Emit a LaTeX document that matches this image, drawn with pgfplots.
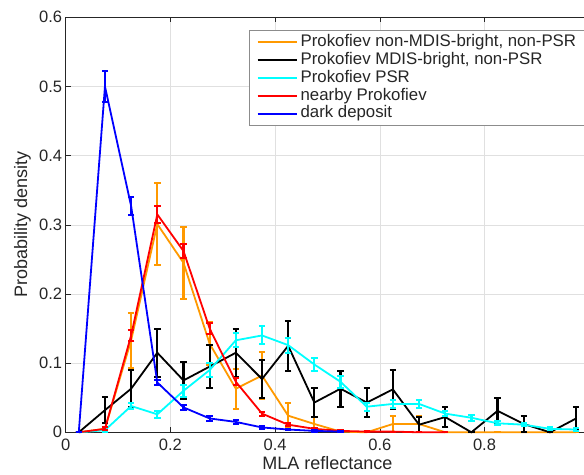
\documentclass[border=0pt]{standalone}
\usepackage{fontspec}
\setmainfont{Liberation Sans}
\usepackage{pgfplots}
\pgfplotsset{compat=1.18}
\definecolor{mlorange}{rgb}{1,0.6,0}
\definecolor{mlcyan}{rgb}{0,1,1}
\definecolor{mlred}{rgb}{1,0,0}
\definecolor{mlblue}{rgb}{0,0,1}
\definecolor{axgray}{gray}{0.15}
\pgfplotsset{
  eb/.style={mark=none, line width=1.8pt, forget plot,
  error bars/.cd, y dir=both, y explicit,
  error bar style={line width=2.2pt, solid},
  error mark options={rotate=90, mark size=3.2pt, line width=2pt}}}
\begin{document}
\begin{tikzpicture}
\begin{axis}[
  scale only axis, width=523.5pt, height=415pt,
  xmin=0, xmax=1, ymin=0, ymax=0.6,
  xtick={0,0.2,0.4,0.6,0.8}, ytick={0,0.1,0.2,0.3,0.4,0.5,0.6},
  clip=false,
  xlabel={MLA reflectance}, ylabel={Probability density},
  label style={font=\fontsize{18}{20}\selectfont, text=axgray},
  xlabel style={at={(axis description cs:0.5,-0.0908)}, anchor=base},
  ylabel style={at={(axis description cs:-0.0739,0.5)}, anchor=base},
  tick label style={font=\fontsize{16.5}{18}\selectfont, text=axgray},
  xticklabel style={yshift=-3pt},
  /pgf/number format/assume math mode=true,
  tick align=inside, tick pos=both, major tick length=5pt,
  grid=major, major grid style={black!12, line width=0.5pt},
  axis line style={axgray, line width=0.6pt}, tick style={axgray, line width=0.5pt},
  legend cell align=left,
  legend style={at={(axis description cs:0.351,0.969)}, anchor=north west,
    draw=black!45, line width=0.5pt, fill=white,
    font=\fontsize{16.8}{18}\selectfont, text=axgray,
    inner xsep=7pt, inner ysep=2.75pt, column sep=2pt,
    nodes={text height=12pt, text depth=3.6pt, inner sep=1.15pt}},
  legend image code/.code={\draw[#1] (0pt,0pt) -- (39pt,0pt);},
]
\addlegendimage{mlorange, line width=1.8pt}
\addlegendentry{Prokofiev non-MDIS-bright, non-PSR}
\addlegendimage{black, line width=1.8pt}
\addlegendentry{Prokofiev MDIS-bright, non-PSR}
\addlegendimage{mlcyan, line width=1.8pt}
\addlegendentry{Prokofiev PSR}
\addlegendimage{mlred, line width=1.8pt}
\addlegendentry{nearby Prokofiev}
\addlegendimage{mlblue, line width=1.8pt}
\addlegendentry{dark deposit}
\addplot[mlorange, eb] coordinates {
 (0.025,0) +- (0,0) (0.075,0.005) +- (0,0.003) (0.125,0.133) +- (0,0.04)
 (0.175,0.301) +- (0,0.059) (0.225,0.245) +- (0,0.052) (0.275,0.128) +- (0,0.031)
 (0.325,0.063) +- (0,0.029) (0.375,0.082) +- (0,0.034) (0.425,0.024) +- (0,0.018)
 (0.475,0.012) +- (0,0.01) (0.525,0.001) +- (0,0.001) (0.575,0) +- (0,0)
 (0.625,0.012) +- (0,0.012) (0.675,0.012) +- (0,0.012) (0.725,0) +- (0,0)
 (0.775,0) +- (0,0) (0.825,0) +- (0,0) (0.875,0) +- (0,0) (0.925,0) +- (0,0)
 (0.975,0) +- (0,0)};
\addplot[black, eb] coordinates {
 (0.025,0) +- (0,0) (0.075,0.032) +- (0,0.019) (0.125,0.063) +- (0,0.027)
 (0.175,0.115) +- (0,0.035) (0.225,0.075) +- (0,0.027) (0.275,0.095) +- (0,0.031)
 (0.325,0.115) +- (0,0.035) (0.375,0.077) +- (0,0.027) (0.425,0.125) +- (0,0.036)
 (0.475,0.043) +- (0,0.021) (0.525,0.063) +- (0,0.026) (0.575,0.043) +- (0,0.021)
 (0.625,0.062) +- (0,0.028) (0.675,0.011) +- (0,0.011) (0.725,0.022) +- (0,0.015)
 (0.775,0) +- (0,0) (0.825,0.031) +- (0,0.019) (0.875,0.012) +- (0,0.011)
 (0.925,0) +- (0,0) (0.975,0.020) +- (0,0.016)};
\addplot[mlcyan, eb] coordinates {
 (0.025,0) +- (0,0) (0.075,0.003) +- (0,0.002) (0.125,0.038) +- (0,0.005)
 (0.175,0.026) +- (0,0.005) (0.225,0.060) +- (0,0.009) (0.275,0.090) +- (0,0.01)
 (0.325,0.133) +- (0,0.01) (0.375,0.140) +- (0,0.013) (0.425,0.126) +- (0,0.011)
 (0.475,0.098) +- (0,0.01) (0.525,0.073) +- (0,0.009) (0.575,0.037) +- (0,0.006)
 (0.625,0.041) +- (0,0.006) (0.675,0.041) +- (0,0.006) (0.725,0.027) +- (0,0.004)
 (0.775,0.021) +- (0,0.004) (0.825,0.013) +- (0,0.003) (0.875,0.011) +- (0,0.002)
 (0.925,0.005) +- (0,0.002) (0.975,0.004) +- (0,0.002)};
\addplot[mlred, eb] coordinates {
 (0.025,0) +- (0,0) (0.075,0.005) +- (0,0.002) (0.125,0.14) +- (0,0.008)
 (0.175,0.315) +- (0,0.012) (0.225,0.262) +- (0,0.01) (0.275,0.15) +- (0,0.008)
 (0.325,0.073) +- (0,0.005) (0.375,0.027) +- (0,0.003) (0.425,0.011) +- (0,0.002)
 (0.475,0.005) +- (0,0.001) (0.525,0.002) +- (0,0.001) (0.575,0.001) +- (0,0.001)
 (0.625,0.001) +- (0,0) (0.675,0) +- (0,0) (0.725,0) +- (0,0)};
\addplot[mlblue, eb] coordinates {
 (0.025,0) +- (0,0) (0.075,0.500) +- (0,0.022) (0.125,0.327) +- (0,0.013)
 (0.175,0.072) +- (0,0.004) (0.225,0.036) +- (0,0.004) (0.275,0.020) +- (0,0.003)
 (0.325,0.015) +- (0,0.003) (0.375,0.007) +- (0,0.002) (0.425,0.004) +- (0,0.001)
 (0.475,0.002) +- (0,0.001) (0.525,0.001) +- (0,0.001)};
\end{axis}
\pgfresetboundingbox
\useasboundingbox ([xshift=-65.7pt,yshift=-42.7pt]current axis.south west) rectangle ([xshift=518.3pt,yshift=17.3pt]current axis.north west);
\end{tikzpicture}
\end{document}
